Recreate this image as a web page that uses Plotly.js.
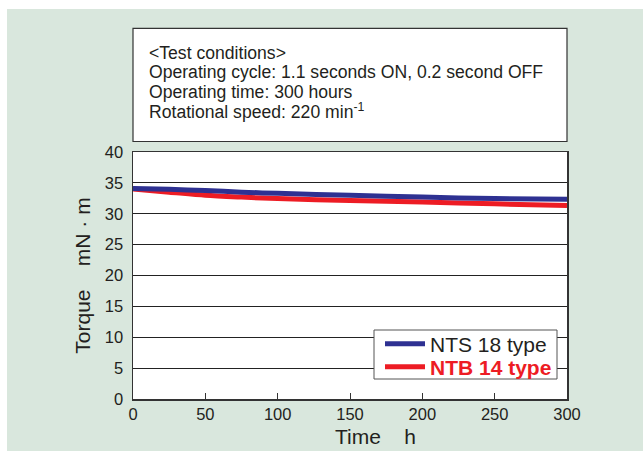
<!DOCTYPE html>
<html>
<head>
<meta charset="utf-8">
<script src="https://cdn.plot.ly/plotly-3.0.1.min.js"></script>
<style>
html,body{margin:0;padding:0;background:#ffffff;}
#wrap{position:absolute;left:7px;top:9px;width:636px;height:442px;}
</style>
</head>
<body>
<div id="wrap"></div>
<script>
// Data
var timeHours = [0, 25, 50, 75, 100, 150, 200, 250, 300];
var nts18Torque = [34.1, 33.95, 33.75, 33.5, 33.3, 33.0, 32.7, 32.45, 32.35];
var ntb14Torque = [34.0, 33.5, 33.0, 32.7, 32.45, 32.15, 31.9, 31.6, 31.35];
var seriesNames = ['NTS 18 type', 'NTB 14 type'];
var xTicks = [0, 50, 100, 150, 200, 250, 300];
var yTicks = [0, 5, 10, 15, 20, 25, 30, 35, 40];
var xTitle = 'Time\u00a0\u00a0\u00a0 h';
var yTitle = 'Torque\u00a0\u00a0\u00a0 mN · m';
var conditionLines = [
  '&lt;Test conditions&gt;',
  'Operating cycle: 1.1 seconds ON, 0.2 second OFF',
  'Operating time: 300 hours',
  'Rotational speed: 220 min<sup>-1</sup>'
];

var FONT = 'Liberation Sans, Arial, Helvetica, sans-serif';
var TXT = '#231f20';
var BLUE = '#2e3192';
var RED = '#ed1c24';

// plot area on page: x 133..567, y 152..399
function py(pageY) { return (399 - pageY) / 247; }
function px(pageX) { return (pageX - 133) / 434; }

var traces = [
  {
    x: timeHours, y: ntb14Torque, type: 'scatter', mode: 'lines',
    name: '<b><span style="color:' + RED + '">' + seriesNames[1] + '</span></b>',
    line: {color: RED, width: 5, shape: 'spline', smoothing: 0.8},
    legend: 'legend2', hoverinfo: 'skip'
  },
  {
    x: timeHours, y: nts18Torque, type: 'scatter', mode: 'lines',
    name: seriesNames[0],
    line: {color: BLUE, width: 5, shape: 'spline', smoothing: 0.8},
    legend: 'legend', hoverinfo: 'skip'
  }
];

var legendCommon = {
  xanchor: 'left', yanchor: 'middle',
  bgcolor: 'rgba(0,0,0,0)', borderwidth: 0,
  itemwidth: 40
};

var annotations = [];
var lineCentersY = [52.5, 72, 91.5, 111];
for (var i = 0; i < conditionLines.length; i++) {
  annotations.push({
    xref: 'paper', yref: 'paper', x: px(148), y: py(lineCentersY[i]),
    xanchor: 'left', yanchor: 'middle', align: 'left', showarrow: false, borderpad: 0,
    text: conditionLines[i],
    font: {family: FONT, size: 17.6, color: TXT}
  });
}
annotations.push({
  xref: 'paper', yref: 'paper', x: px(375), y: py(436),
  xanchor: 'center', yanchor: 'middle', showarrow: false, borderpad: 0,
  text: xTitle, font: {family: FONT, size: 21, color: TXT}
});

var layout = {
  width: 636, height: 442,
  margin: {l: 126, r: 76, t: 143, b: 52},
  paper_bgcolor: '#d9e7dd',
  plot_bgcolor: '#ffffff',
  font: {family: FONT, color: TXT, size: 16},
  showlegend: true,
  legend: Object.assign({x: px(380), y: py(344), font: {family: FONT, size: 21, color: TXT}}, legendCommon),
  legend2: Object.assign({x: px(380), y: py(367), font: {family: FONT, size: 21, color: RED}}, legendCommon),
  xaxis: {
    range: [0, 300], tickvals: xTicks, ticktext: xTicks.map(String),
    ticks: 'inside', ticklen: 6, tickwidth: 1, tickcolor: '#333333',
    showgrid: false, zeroline: false,
    showline: true, mirror: true, linecolor: '#333333', linewidth: 1.5,
    tickfont: {family: FONT, size: 16.5, color: TXT},
    fixedrange: true
  },
  yaxis: {
    range: [0, 40], tickvals: yTicks, ticktext: yTicks.map(String),
    ticks: '', showgrid: true, gridcolor: '#222222', gridwidth: 1,
    zeroline: false,
    showline: true, mirror: true, linecolor: '#333333', linewidth: 1.5,
    tickfont: {family: FONT, size: 16.5, color: TXT},
    ticklabelstandoff: 5,
    title: {text: yTitle, font: {family: FONT, size: 21, color: TXT}, standoff: 8},
    fixedrange: true
  },
  shapes: [
    {type: 'rect', xref: 'paper', yref: 'paper', x0: 0, x1: 1, y0: py(141.5), y1: py(28.3),
     fillcolor: '#ffffff', line: {color: '#333333', width: 1.2}, layer: 'above'},
    {type: 'rect', xref: 'paper', yref: 'paper', x0: px(374), x1: px(557), y0: py(379), y1: py(330),
     fillcolor: '#ffffff', line: {color: '#555555', width: 1}, layer: 'above'}
  ],
  annotations: annotations
};

Plotly.newPlot('wrap', traces, layout, {staticPlot: true, displayModeBar: false});
</script>
</body>
</html>
